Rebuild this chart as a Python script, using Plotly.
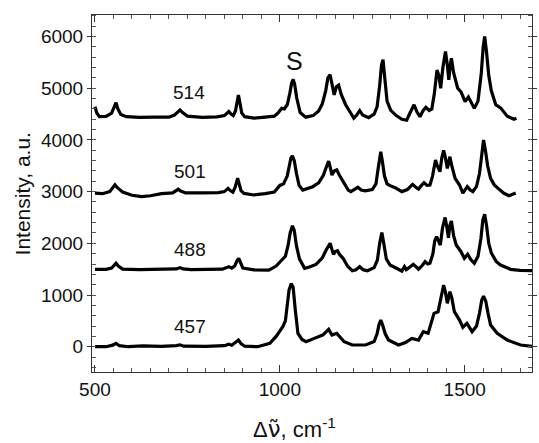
import plotly.graph_objects as go

# ---- data (wavenumber, cm-1 ; intensity, a.u., offsets included) ----
wn_514 = [500, 505, 512, 530, 545, 552, 557, 562, 570, 585, 620, 660, 700, 715, 724, 730, 737, 750, 790, 830,
          850, 857, 862, 868, 874, 880, 884, 888, 892, 897, 905, 930, 960, 985, 995, 1005, 1012, 1020, 1027, 1032,
          1036, 1040, 1046, 1055, 1070, 1090, 1105, 1115, 1124, 1130, 1136, 1141, 1147, 1153, 1159, 1166, 1178,
          1190, 1200, 1208, 1216, 1224, 1240, 1255, 1263, 1270, 1275, 1279, 1284, 1290, 1300, 1315, 1330, 1343,
          1352, 1363, 1371, 1379, 1387, 1395, 1404, 1411, 1418, 1425, 1430, 1435, 1441, 1448, 1453, 1457, 1461,
          1464, 1470, 1481, 1490, 1501, 1510, 1518, 1526, 1536, 1545, 1550, 1554, 1559, 1565, 1572, 1584, 1597,
          1615, 1633, 1640]
int_514 = [4640, 4520, 4450, 4455, 4520, 4640, 4720, 4600, 4490, 4450, 4435, 4440, 4440, 4480, 4540, 4580, 4530,
           4460, 4435, 4445, 4470, 4530, 4550, 4500, 4470, 4560, 4720, 4870, 4720, 4520, 4450, 4420, 4440, 4460,
           4520, 4610, 4600, 4680, 4900, 5100, 5170, 5080, 4800, 4530, 4440, 4470, 4560, 4700, 4950, 5200, 5260,
           5050, 4870, 5030, 5060, 4880, 4680, 4540, 4420, 4480, 4565, 4480, 4430, 4500, 4640, 5050, 5450, 5550,
           5200, 4750, 4570, 4470, 4400, 4380, 4520, 4680, 4540, 4450, 4560, 4630, 4570, 4600, 4900, 5350, 5250,
           5000, 5400, 5710, 5450, 5160, 5450, 5580, 5300, 5000, 4930, 4740, 4830, 4720, 4610, 4750, 5300, 5800,
           6000, 5700, 5250, 4950, 4680, 4620, 4460, 4400, 4420]

wn_501 = [500, 520, 540, 548, 554, 560, 575, 600, 626, 650, 680, 710, 718, 725, 732, 745, 790, 834, 850, 856, 860,
          866, 873, 879, 883, 886, 890, 895, 903, 930, 960, 985, 1000, 1010, 1020, 1026, 1030, 1034, 1039, 1045,
          1052, 1062, 1075, 1089, 1105, 1118, 1126, 1132, 1137, 1141, 1147, 1154, 1160, 1174, 1185, 1192, 1202,
          1211, 1220, 1231, 1250, 1260, 1266, 1270, 1273, 1277, 1283, 1290, 1298, 1312, 1330, 1345, 1359, 1367,
          1375, 1383, 1390, 1398, 1406, 1413, 1418, 1421, 1426, 1433, 1438, 1443, 1448, 1453, 1457, 1460, 1465,
          1474, 1486, 1495, 1507, 1515, 1522, 1532, 1540, 1546, 1551, 1556, 1562, 1570, 1580, 1588, 1606, 1620,
          1633, 1638]
int_501 = [2970, 2960, 3000, 3080, 3130, 3080, 2990, 2930, 2905, 2920, 2960, 2975, 3010, 3045, 3010, 2975, 2975,
           2980, 3000, 3040, 3063, 3020, 2990, 3080, 3190, 3260, 3150, 3020, 2965, 2935, 2960, 2990, 3120, 3150,
           3300, 3500, 3650, 3690, 3600, 3350, 3120, 3030, 3060, 3095, 3170, 3320, 3480, 3590, 3450, 3320, 3400,
           3420, 3330, 3160, 3030, 3000, 3040, 3083, 3030, 3015, 3040, 3150, 3450, 3700, 3770, 3600, 3300, 3150,
           3115, 3076, 3000, 3040, 3140, 3090, 3050, 3120, 3173, 3120, 3128, 3300, 3530, 3610, 3500, 3385, 3650,
           3800, 3650, 3450, 3580, 3675, 3500, 3257, 3128, 2970, 3095, 3030, 3000, 3100, 3350, 3750, 4000, 3800,
           3500, 3257, 3130, 3076, 2967, 2922, 2967, 2975]

wn_488 = [500, 530, 545, 551, 557, 563, 575, 620, 680, 720, 730, 738, 760, 800, 845, 856, 862, 870, 878, 884, 889,
          894, 900, 930, 970, 990, 1004, 1015, 1022, 1028, 1034, 1039, 1045, 1053, 1067, 1080, 1098, 1115, 1126,
          1136, 1141, 1145, 1150, 1156, 1162, 1171, 1183, 1196, 1206, 1216, 1225, 1237, 1255, 1264, 1270, 1276,
          1281, 1288, 1298, 1316, 1330, 1337, 1342, 1352, 1361, 1368, 1375, 1385, 1393, 1400, 1406, 1414, 1419,
          1424, 1429, 1434, 1440, 1447, 1452, 1456, 1460, 1464, 1470, 1477, 1490, 1499, 1508, 1517, 1526, 1536,
          1544, 1549, 1554, 1559, 1565, 1572, 1585, 1597, 1624, 1650, 1690]
int_488 = [1495, 1495, 1520, 1580, 1615, 1560, 1500, 1490, 1495, 1505, 1530, 1505, 1490, 1495, 1500, 1530, 1548,
           1520, 1560, 1660, 1710, 1620, 1520, 1485, 1483, 1560, 1677, 1750, 1950, 2200, 2340, 2250, 1950, 1700,
           1516, 1540, 1593, 1720, 1880, 2000, 1880, 1787, 1840, 1857, 1780, 1710, 1560, 1470, 1490, 1548, 1490,
           1470, 1530, 1680, 2000, 2210, 2000, 1700, 1580, 1516, 1464, 1548, 1490, 1540, 1594, 1550, 1500, 1570,
           1645, 1600, 1613, 1800, 2050, 2128, 2050, 1967, 2300, 2500, 2300, 2108, 2350, 2430, 2150, 1967, 1838,
           1710, 1787, 1680, 1613, 1750, 2100, 2450, 2560, 2350, 2000, 1813, 1650, 1580, 1497, 1478, 1470]

wn_457 = [500, 530, 548, 557, 566, 590, 630, 680, 720, 730, 740, 800, 850, 862, 870, 880, 888, 895, 905, 940, 973,
          990, 1008, 1015, 1020, 1025, 1031, 1036, 1042, 1049, 1060, 1071, 1093, 1116, 1132, 1141, 1154, 1164,
          1174, 1196, 1232, 1255, 1263, 1268, 1273, 1278, 1285, 1294, 1321, 1340, 1357, 1375, 1388, 1401, 1410,
          1417, 1428, 1435, 1443, 1448, 1453, 1460, 1465, 1472, 1486, 1495, 1506, 1520, 1532, 1540, 1546, 1551,
          1557, 1563, 1570, 1588, 1615, 1651, 1690]
int_457 = [0, 0, 30, 66, 20, 0, 15, 5, 20, 37, 10, 5, 20, 47, 30, 80, 130, 60, 10, 0, 66, 200, 387, 500, 800, 1100,
           1220, 1150, 700, 259, 140, 97, 161, 226, 336, 226, 259, 180, 97, 33, 33, 100, 250, 420, 516, 420, 250,
           129, 33, 80, 161, 129, 290, 259, 450, 645, 677, 900, 1193, 1050, 839, 1064, 950, 677, 516, 374, 451,
           290, 400, 650, 900, 980, 880, 650, 419, 259, 129, 33, 0]

series = [("514", wn_514, int_514), ("501", wn_501, int_501),
          ("488", wn_488, int_488), ("457", wn_457, int_457)]

label_text = ["514", "501", "488", "457"]
label_x = [754, 757, 757, 757]
label_y = [4913, 3398, 1890, 400]

peak_label = "S"
peak_x = 1039
peak_y = 5526

FONT = "Liberation Sans, Arial, sans-serif"

fig = go.Figure()
for name, xs, ys in series:
    fig.add_trace(go.Scatter(x=xs, y=ys, mode="lines", name=name,
                             line=dict(color="black", width=3.2), showlegend=False))

for t, x, y in zip(label_text, label_x, label_y):
    fig.add_annotation(x=x, y=y, text=t, showarrow=False, xref="x", yref="y",
                       xanchor="center", yanchor="middle",
                       font=dict(family=FONT, size=19, color="#111"))
fig.add_annotation(x=peak_x, y=peak_y, text=peak_label, showarrow=False, xref="x", yref="y",
                   xanchor="center", yanchor="middle",
                   font=dict(family=FONT, size=25, color="#111"))

# axis titles
fig.add_annotation(x=-0.157, y=0.5, xref="paper", yref="paper", text="Intensity, a.u.",
                   textangle=-90, showarrow=False, xanchor="center", yanchor="middle",
                   font=dict(family=FONT, size=21, color="#111"))
fig.add_annotation(x=0.361, y=-0.158, xref="paper", yref="paper",
                   text="Δ<span style='font-family:DejaVu Sans;font-size:23px'>ν\u0303</span>, cm<sup>-1</sup>",
                   showarrow=False, xanchor="left", yanchor="middle",
                   font=dict(family=FONT, size=22, color="#111"))

fig.update_xaxes(range=[492, 1682], tickvals=[500, 1000, 1500], ticks="inside", ticklen=7,
                 showline=True, linecolor="#333", linewidth=1, mirror="ticks", showgrid=False,
                 zeroline=False, tickcolor="#333",
                 tickfont=dict(family=FONT, size=19, color="#111"),
                 minor=dict(dtick=50, tick0=500, ticks="inside", ticklen=4, tickcolor="#555", showgrid=False))
fig.update_yaxes(range=[-489, 6416], tickvals=[0, 1000, 2000, 3000, 4000, 5000, 6000], ticks="outside",
                 ticklen=4, showline=True, linecolor="#333", linewidth=1, mirror="ticks", showgrid=False,
                 zeroline=False, tickcolor="#333",
                 tickfont=dict(family=FONT, size=19, color="#111"),
                 minor=dict(dtick=200, tick0=0, ticks="inside", ticklen=4, tickcolor="#555", showgrid=False))

fig.update_layout(width=539, height=443, margin=dict(l=92, r=2, t=15, b=71),
                  plot_bgcolor="white", paper_bgcolor="white")

fig.write_html("out.html", config={"displayModeBar": False},
               post_script="document.body.style.margin='0';document.body.style.overflow='hidden';")
